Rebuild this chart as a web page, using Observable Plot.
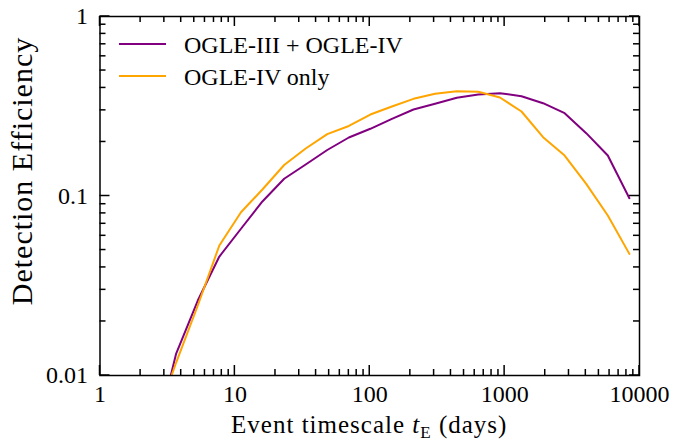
<!DOCTYPE html>
<html>
<head>
<meta charset="utf-8">
<script src="https://cdn.jsdelivr.net/npm/d3@7"></script>
<script src="https://cdn.jsdelivr.net/npm/@observablehq/plot@0.6"></script>
<style>
  body { margin: 0; background: #fff; }
  #chart { width: 675px; height: 444px; }
</style>
</head>
<body>
<div id="chart"></div>
<script>
// ---- data ----
const tE = [2.54, 3.67, 5.31, 7.67, 11.1, 16.0, 23.2, 33.5, 48.4, 70, 101, 146, 211, 305, 442, 638, 923, 1334, 1928, 2786, 4027, 5821, 8414];
const effBoth = [0.00429, 0.01326, 0.02617, 0.0460, 0.0657, 0.0932, 0.1247, 0.1498, 0.1804, 0.2118, 0.2368, 0.2692, 0.3033, 0.3263, 0.3524, 0.3676, 0.3738, 0.3597, 0.3289, 0.2892, 0.2239, 0.168, 0.0972];
const effIV = [0.0054, 0.01181, 0.02455, 0.0530, 0.0812, 0.1087, 0.1488, 0.1839, 0.2210, 0.2455, 0.2844, 0.3152, 0.3478, 0.3710, 0.3835, 0.3806, 0.3537, 0.2956, 0.2127, 0.168, 0.1169, 0.0779, 0.0476];
const seriesNames = ["OGLE-III + OGLE-IV", "OGLE-IV only"];
const seriesColors = ["#800080", "#FFA500"];
const xTicks = [1, 10, 100, 1000, 10000];
const xTickLabels = ["1", "10", "100", "1000", "10000"];
const yTicks = [0.01, 0.1, 1];
const yTickLabels = ["0.01", "0.1", "1"];
const yLabel = "Detection Efficiency";

// ---- build table ----
const rows = [];
tE.forEach((t, i) => {
  rows.push({t, eff: effBoth[i], series: seriesNames[0]});
  rows.push({t, eff: effIV[i], series: seriesNames[1]});
});

const W = 675, H = 444, mL = 99.5, mR = 36, mT = 16, mB = 69;
const iw = W - mL - mR, ih = H - mT - mB;
const xDom = [1, 10000], yDom = [0.01, 1];
const majorLen = 10, minorLen = 6;
const font = "'Liberation Serif', 'DejaVu Serif', serif";

const minorX = d3.scaleLog().domain(xDom).ticks().filter(d => !xTicks.includes(d));
const minorY = d3.scaleLog().domain(yDom).ticks().filter(d => !yTicks.some(v => Math.abs(v - d) < 1e-9));

const svg = Plot.plot({
  width: W, height: H,
  marginLeft: mL, marginRight: mR, marginTop: mT, marginBottom: mB,
  style: {fontFamily: font, fontSize: "24px", color: "#000", background: "#fff"},
  x: {type: "log", domain: xDom},
  y: {type: "log", domain: yDom},
  color: {domain: seriesNames, range: seriesColors},
  marks: [
    Plot.line(rows, {x: "t", y: "eff", z: "series", stroke: "series", strokeWidth: 2, clip: true}),
    Plot.axisX({ticks: xTicks, tickSize: 0, tickPadding: 9, label: null, fontSize: 24,
      tickFormat: d => xTickLabels[xTicks.indexOf(d)]}),
    Plot.axisY({ticks: yTicks, tickSize: 0, tickPadding: 12, label: null, fontSize: 24,
      tickFormat: d => yTickLabels[yTicks.findIndex(v => Math.abs(v - d) < 1e-12)]}),
    Plot.frame({stroke: "black", strokeWidth: 1.5})
  ]
});

const s = d3.select(svg);
const sx = svg.scale("x"), sy = svg.scale("y");
const X = v => sx.apply(v), Y = v => sy.apply(v);
const x0 = X(xDom[0]), x1 = X(xDom[1]), y0 = Y(yDom[0]), y1 = Y(yDom[1]);

// inward ticks on all four sides
const tg = s.append("g");
const tickLine = (a, b, c, d) => tg.append("line")
  .attr("x1", a).attr("y1", b).attr("x2", c).attr("y2", d)
  .style("stroke", "#000").style("stroke-width", "1.5px");
const xt = [...minorX.map(v => [v, minorLen]), ...xTicks.map(v => [v, majorLen])];
const yt = [...minorY.map(v => [v, minorLen]), ...yTicks.map(v => [v, majorLen])];
xt.forEach(([v, len]) => {
  const px = X(v);
  tickLine(px, y0, px, y0 - len);
  tickLine(px, y1, px, y1 + len);
});
yt.forEach(([v, len]) => {
  const py = Y(v);
  tickLine(x0, py, x0 + len, py);
  tickLine(x1, py, x1 - len, py);
});

// x axis label with italic t and subscript E
const xl = s.append("text")
  .attr("x", mL + iw / 2).attr("y", 433)
  .attr("text-anchor", "middle")
  .style("font-family", font).style("font-size", "25px").style("letter-spacing", "1px")
  .attr("fill", "#000");
xl.append("tspan").text("Event timescale ");
xl.append("tspan").style("font-style", "italic").text("t");
xl.append("tspan").attr("dy", 5).style("font-size", "17px").text("E");
xl.append("tspan").attr("dy", -5).text(" (days)");

// y axis label
s.append("text")
  .attr("transform", "translate(32,171) rotate(-90)")
  .attr("text-anchor", "middle")
  .style("font-family", font).style("font-size", "30px").style("letter-spacing", "1px")
  .attr("fill", "#000")
  .text(yLabel);

// legend
const lg = s.append("g");
seriesNames.forEach((name, i) => {
  const y = 44 + i * 32;
  lg.append("line").attr("x1", 119).attr("x2", 166).attr("y1", y).attr("y2", y)
    .attr("stroke", seriesColors[i]).attr("stroke-width", 2);
  lg.append("text").attr("x", 184).attr("y", y + 8.5)
    .attr("text-anchor", "start")
    .style("font-family", font).style("font-size", "24px").attr("fill", "#000")
    .text(name);
});

document.getElementById("chart").appendChild(svg);
</script>
</body>
</html>
